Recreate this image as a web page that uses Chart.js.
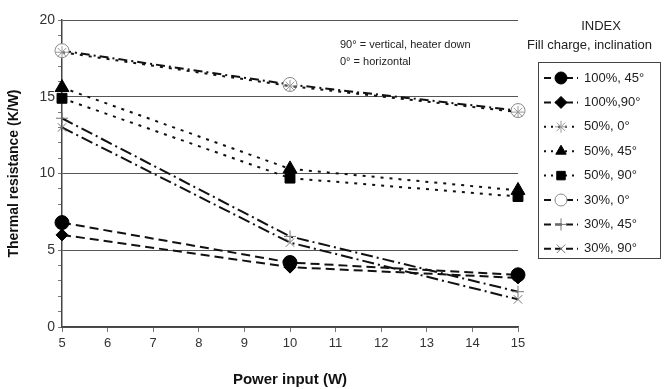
<!DOCTYPE html>
<html>
<head>
<meta charset="utf-8">
<script src="https://cdn.jsdelivr.net/npm/chart.js@4"></script>
<style>
  html, body { margin: 0; padding: 0; background: #fff; }
  #wrap { width: 665px; height: 389px; position: relative; }
</style>
</head>
<body>
<div id="wrap"><canvas id="chart" width="665" height="389"></canvas></div>
<script>
// datos
const powers = [5, 10, 15];
const r100_45 = [6.8, 4.2, 3.4];
const r100_90 = [6.0, 3.9, 3.2];
const r50_0 = [17.9, 15.7, 14.0];
const r50_45 = [15.6, 10.3, 8.9];
const r50_90 = [14.9, 9.7, 8.5];
const r30_0 = [18.0, 15.8, 14.1];
const r30_45 = [13.6, 5.9, 2.3];
const r30_90 = [13.0, 5.5, 1.8];
const yTicks = [0, 5, 10, 15, 20];
const labels = ['100%, 45°', '100%,90°', '50%, 0°', '50%, 45°', '50%, 90°', '30%, 0°', '30%, 45°', '30%, 90°'];

const FONT = '"Liberation Sans", Arial, sans-serif';

function pts(vals) {
    return vals.map((v, i) => ({ x: powers[i], y: v }));
}

// estilo de cada serie
const styles = [
    { data: r100_45, dash: [9, 5], point: 'circle', r: 7, fill: '#000' },
    { data: r100_90, dash: [9, 5], point: 'rectRot', r: 6, fill: '#000' },
    { data: r50_0, dash: [3, 6], point: 'star', r: 6, fill: '#fff', border: '#999' },
    { data: r50_45, dash: [3, 6], point: 'triangle', r: 8, fill: '#000' },
    { data: r50_90, dash: [3, 6], point: 'rect', r: 7, fill: '#000' },
    { data: r30_0, dash: [9, 4, 2, 4], point: 'circle', r: 7, fill: '#fff', border: '#888' },
    { data: r30_45, dash: [12, 4, 2, 4], point: 'cross', r: 6, fill: '#000', border: '#777' },
    { data: r30_90, dash: [12, 4, 2, 4], point: 'crossRot', r: 6, fill: '#000', border: '#777' }
];

const datasets = styles.map((s, i) => ({
    label: labels[i],
    data: pts(s.data),
    borderColor: '#111',
    borderWidth: 2,
    borderDash: s.dash,
    pointStyle: s.point,
    pointRadius: s.r,
    pointBackgroundColor: s.fill,
    pointBorderColor: s.border || '#000',
    pointBorderWidth: 1,
    showLine: true,
    tension: 0,
    clip: false
}));

// leyenda y textos dibujados a mano
const extras = {
    id: 'extras',
    afterDraw(chart) {
        const ctx = chart.ctx;
        ctx.save();
        ctx.fillStyle = '#222';
        ctx.font = '11px ' + FONT;
        ctx.textAlign = 'left';
        ctx.textBaseline = 'middle';
        ctx.fillText('90° = vertical, heater down', 340, 45);
        ctx.fillText('0° = horizontal', 340, 62);

        ctx.font = '13px ' + FONT;
        ctx.textAlign = 'center';
        ctx.fillText('INDEX', 601, 26);
        ctx.textAlign = 'left';
        ctx.fillText('Fill charge, inclination', 527, 45);

        // caja
        ctx.strokeStyle = '#444';
        ctx.lineWidth = 1;
        ctx.strokeRect(538.5, 62.5, 122, 196);

        const rowH = 24.4;
        for (let i = 0; i < styles.length; i++) {
            const s = styles[i];
            const y = 78 + i * rowH;
            ctx.strokeStyle = '#111';
            ctx.lineWidth = 2;
            ctx.setLineDash(s.dash.length === 2 && s.dash[0] < 4 ? [2, 5] : [7, 4]);
            ctx.beginPath();
            ctx.moveTo(544, y);
            ctx.lineTo(578, y);
            ctx.stroke();
            ctx.setLineDash([]);
            ctx.fillStyle = s.fill;
            ctx.strokeStyle = s.border || '#000';
            ctx.lineWidth = 1;
            Chart.helpers.drawPoint(ctx, { pointStyle: s.point, radius: Math.min(s.r, 6), borderWidth: 1, rotation: 0 }, 561, y);
            ctx.fillStyle = '#222';
            ctx.font = '13px ' + FONT;
            ctx.textBaseline = 'middle';
            ctx.fillText(labels[i], 584, y);
        }
        ctx.restore();
    }
};

const ctx = document.getElementById('chart').getContext('2d');
new Chart(ctx, {
    type: 'scatter',
    data: { datasets },
    options: {
        responsive: false,
        animation: false,
        layout: { padding: { top: 20, right: 147, left: 6, bottom: 0 } },
        plugins: { legend: { display: false }, tooltip: { enabled: false } },
        scales: {
            x: {
                type: 'linear',
                min: 5, max: 15,
                afterFit: (s) => { s.height = 62; },
                border: { color: '#444', width: 1.5 },
                grid: { color: 'rgba(0,0,0,0)', tickColor: '#777', tickLength: 5 },
                ticks: { stepSize: 1, autoSkip: false, color: '#333', font: { family: FONT, size: 13 }, padding: 4 },
                title: { display: true, text: 'Power input (W)', color: '#111', font: { family: FONT, size: 15, weight: 'bold' }, padding: { top: 4, bottom: 0 } }
            },
            y: {
                min: 0, max: 20,
                afterFit: (s) => { s.width = 56; },
                border: { color: '#444', width: 1.5 },
                grid: {
                    color: (c) => (c.tick && c.tick.value % 5 === 0 ? '#555' : 'rgba(0,0,0,0)'),
                    lineWidth: 1,
                    tickColor: '#777',
                    tickLength: 4
                },
                ticks: {
                    stepSize: 1,
                    autoSkip: false,
                    color: '#333',
                    font: { family: FONT, size: 14 },
                    padding: 3,
                    callback: (v) => (yTicks.includes(v) ? v : '')
                },
                title: { display: true, text: 'Thermal resistance (K/W)', color: '#111', font: { family: FONT, size: 14, weight: 'bold' }, padding: 0 }
            }
        }
    },
    plugins: [extras]
});
</script>
</body>
</html>
